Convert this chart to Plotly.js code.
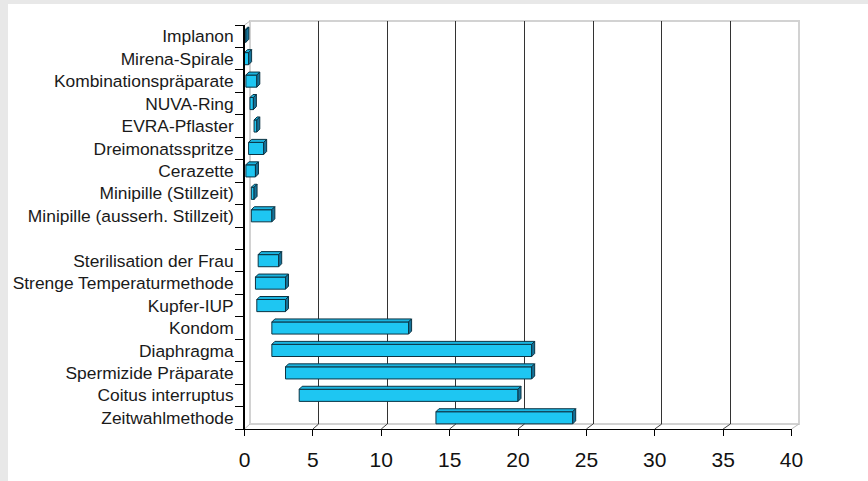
<!DOCTYPE html>
<html><head><meta charset="utf-8">
<script src="https://cdn.plot.ly/plotly-3.0.1.min.js"></script>
<style>html,body{margin:0;padding:0;background:#fff;} #chart{width:868px;height:481px;}</style>
</head><body><div id="chart"></div>
<script>
// ---- data ----
const categories = ["Implanon","Mirena-Spirale","Kombinationspräparate","NUVA-Ring","EVRA-Pflaster","Dreimonatsspritze","Cerazette","Minipille (Stillzeit)","Minipille (ausserh. Stillzeit)","","Sterilisation der Frau","Strenge Temperaturmethode","Kupfer-IUP","Kondom","Diaphragma","Spermizide Präparate","Coitus interruptus","Zeitwahlmethode"];
const rangeLow  = [0, 0, 0.1, 0.4, 0.7, 0.3, 0.1, 0.5, 0.5, null, 1.0, 0.8, 0.9, 2, 2, 3, 4, 14];
const rangeHigh = [0.1, 0.3, 0.9, 0.65, 0.9, 1.4, 0.8, 0.7, 2.0, null, 2.5, 3.0, 3.0, 12, 21, 21, 20, 24];
const xTicks = [0, 5, 10, 15, 20, 25, 30, 35, 40];

// ---- geometry (pixels) ----
const W = 868, H = 481;
const F = {l: 244.5, r: 791.5, t: 25, b: 429};   // front plane
const B = {l: 250, r: 799, t: 21, b: 424};       // back wall
const XMAX = 40;
const px = x => x / W, py = y => 1 - y / H;
const nRows = categories.length;
const barW = 0.54, depthPx = 3;
const ddx = depthPx * XMAX / (F.r - F.l);
const ddy = depthPx * nRows / (F.b - F.t);

const idx = [], base = [], len = [];
const topX = [], topY = [], sideX = [], sideY = [];
categories.forEach((c, i) => {
  if (rangeLow[i] === null) return;
  const lo = rangeLow[i], hi = rangeHigh[i];
  idx.push(i); base.push(lo); len.push(hi - lo);
  const y0 = i - barW / 2, y1 = i + barW / 2;
  topX.push(lo, hi, hi + ddx, lo + ddx, lo, null);
  topY.push(y0, y0, y0 - ddy, y0 - ddy, y0, null);
  sideX.push(hi, hi + ddx, hi + ddx, hi, hi, null);
  sideY.push(y0, y0 - ddy, y1 - ddy, y1, y0, null);
});

const outline = '#0c3444';
const traces = [
  {type: 'scatter', x: [0], y: [0], xaxis: 'x', yaxis: 'y', mode: 'markers', marker: {opacity: 0}, hoverinfo: 'skip'},
  {type: 'bar', orientation: 'h', y: idx, x: len, base: base, width: barW, xaxis: 'x2', yaxis: 'y2',
   marker: {color: '#1ec6f2', line: {color: outline, width: 1}}, hoverinfo: 'skip'},
  {type: 'scatter', x: topX, y: topY, xaxis: 'x2', yaxis: 'y2', mode: 'lines', fill: 'toself',
   fillcolor: '#1ab4e0', line: {color: outline, width: 1}, hoverinfo: 'skip', connectgaps: false},
  {type: 'scatter', x: sideX, y: sideY, xaxis: 'x2', yaxis: 'y2', mode: 'lines', fill: 'toself',
   fillcolor: '#15739a', line: {color: outline, width: 1}, hoverinfo: 'skip', connectgaps: false}
];

const font = 'Liberation Sans, Arial, sans-serif';
const shapes = [
  {type: 'rect', xref: 'paper', yref: 'paper', x0: 0, x1: px(8), y0: 0, y1: 1, fillcolor: '#e8e8e8', line: {width: 0}, layer: 'below'},
  {type: 'rect', xref: 'paper', yref: 'paper', x0: 0, x1: 1, y0: py(4), y1: 1, fillcolor: '#e8e8e8', line: {width: 0}, layer: 'below'},
  {type: 'rect', xref: 'paper', yref: 'paper', x0: px(B.l), x1: px(B.r), y0: py(B.b), y1: py(B.t), line: {color: '#d2d2d2', width: 2}, layer: 'below'},
  {type: 'line', xref: 'paper', yref: 'paper', x0: px(F.l), y0: py(F.t), x1: px(B.l), y1: py(B.t), line: {color: '#bbbbbb', width: 1}, layer: 'below'}
];
xTicks.forEach(v => {
  const fx = F.l + v / XMAX * (F.r - F.l);
  const bx = B.l + v / XMAX * (B.r - B.l);
  const edge = (v === 0 || v === XMAX);
  shapes.push({type: 'line', xref: 'paper', yref: 'paper', x0: px(fx), y0: py(F.b), x1: px(bx), y1: py(B.b),
    line: {color: edge ? '#bbbbbb' : '#444444', width: 1}, layer: 'below'});
});

const boundaries = [];
for (let i = 0; i <= nRows; i++) boundaries.push(i - 0.5);

const layout = {
  width: W, height: H, margin: {l: 0, r: 0, t: 0, b: 0},
  paper_bgcolor: '#ffffff', plot_bgcolor: 'rgba(0,0,0,0)',
  showlegend: false, hovermode: false,
  font: {family: font, color: '#1a1a1a'},
  xaxis: {domain: [px(B.l), px(B.r)], range: [0, XMAX], anchor: 'y', tickmode: 'array',
          tickvals: xTicks.slice(1, -1), showticklabels: false, ticks: '', showgrid: true,
          gridcolor: '#333333', gridwidth: 1, zeroline: false, showline: false, fixedrange: true},
  yaxis: {domain: [py(B.b), py(B.t)], range: [nRows - 0.5, -0.5], anchor: 'x', showgrid: false,
          showticklabels: false, ticks: '', zeroline: false, showline: false, fixedrange: true},
  xaxis2: {domain: [px(F.l), px(F.r)], range: [0, XMAX], anchor: 'y2', tickmode: 'array', tickvals: xTicks,
           ticks: 'outside', ticklen: 6, tickcolor: '#000', tickwidth: 1, showline: true, linecolor: '#000',
           linewidth: 1.3, showgrid: false, zeroline: false, fixedrange: true, ticklabelstandoff: 5,
           tickfont: {family: font, size: 21, color: '#111'}},
  yaxis2: {domain: [py(F.b), py(F.t)], range: [nRows - 0.5, -0.5], anchor: 'x2', tickmode: 'array',
           tickvals: categories.map((c, i) => i), ticktext: categories, ticks: 'outside', ticklen: 6,
           tickcolor: 'rgba(0,0,0,0)', showline: true, linecolor: '#000', linewidth: 1.3, showgrid: false,
           zeroline: false, fixedrange: true, tickfont: {family: font, size: 17.4, color: '#1a1a1a'},
           minor: {tickmode: 'array', tickvals: boundaries, ticks: 'outside', ticklen: 8, tickcolor: '#000', tickwidth: 1, showgrid: false}},
  shapes: shapes
};

Plotly.newPlot('chart', traces, layout, {displayModeBar: false, staticPlot: true});
</script>
</body></html>
